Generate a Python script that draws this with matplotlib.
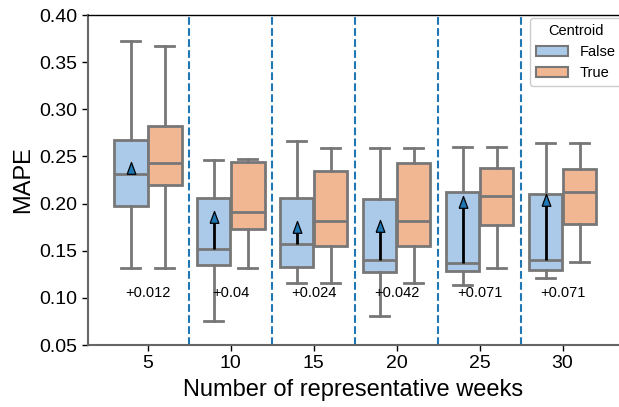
import matplotlib
matplotlib.use("Agg")
import matplotlib.pyplot as plt
import numpy as np
from matplotlib.patches import Patch

plt.rcParams['font.family'] = ['Liberation Sans', 'DejaVu Sans']

weeks = ["5", "10", "15", "20", "25", "30"]
# False (no centroid) boxes: whislo, q1, median, q3, whishi
false_whislo = [0.132, 0.075, 0.116, 0.081, 0.114, 0.121]
false_q1     = [0.197, 0.135, 0.133, 0.127, 0.129, 0.130]
false_med    = [0.231, 0.152, 0.157, 0.140, 0.137, 0.140]
false_q3     = [0.267, 0.206, 0.206, 0.205, 0.212, 0.210]
false_whishi = [0.372, 0.246, 0.266, 0.259, 0.260, 0.264]
false_mean   = [0.244, 0.192, 0.182, 0.183, 0.208, 0.210]
# True (centroid) boxes
true_whislo = [0.132, 0.132, 0.116, 0.116, 0.132, 0.138]
true_q1     = [0.220, 0.173, 0.155, 0.155, 0.177, 0.178]
true_med    = [0.243, 0.191, 0.182, 0.182, 0.208, 0.212]
true_q3     = [0.282, 0.244, 0.235, 0.243, 0.238, 0.237]
true_whishi = [0.367, 0.247, 0.259, 0.259, 0.260, 0.264]
diff_labels = ["+0.012", "+0.04", "+0.024", "+0.042", "+0.071", "+0.071"]

blue = "#abcaea"
orange = "#f0b792"
edge = "#777777"

fig = plt.figure(figsize=(6.19, 4.07), dpi=100)
ax = fig.add_axes([88/619, 62/407, 1 - 88/619, (345-15)/407])

x = np.arange(len(weeks))

def stats(lo, q1, med, q3, hi):
    return [dict(whislo=a, q1=b, med=c, q3=d, whishi=e, fliers=[])
            for a, b, c, d, e in zip(lo, q1, med, q3, hi)]

props = dict(
    patch_artist=True, showfliers=False, widths=0.405, capwidths=0.23,
    boxprops=dict(edgecolor=edge, linewidth=2.0),
    whiskerprops=dict(color=edge, linewidth=2.0),
    capprops=dict(color=edge, linewidth=2.0),
    medianprops=dict(color=edge, linewidth=2.0),
    manage_ticks=False,
)
bf = ax.bxp(stats(false_whislo, false_q1, false_med, false_q3, false_whishi),
            positions=x - 0.205, **props)
bt = ax.bxp(stats(true_whislo, true_q1, true_med, true_q3, true_whishi),
            positions=x + 0.205, **props)
for b in bf['boxes']:
    b.set_facecolor(blue)
for b in bt['boxes']:
    b.set_facecolor(orange)

# arrowhead marker with its tip at the marker's anchor point
head = [(-0.37, -1.0), (0.37, -1.0), (0.0, 0.0), (-0.37, -1.0)]

# arrows from median to mean
for i in range(len(weeks)):
    ax.plot([x[i] - 0.205, x[i] - 0.205], [false_med[i], false_mean[i] - 0.006],
            color='black', lw=2.0, zorder=4, solid_capstyle='butt')
    ax.plot(x[i] - 0.205, false_mean[i], marker=head, markersize=17,
            markerfacecolor='#1f77b4', markeredgecolor='black', markeredgewidth=0.9,
            zorder=5, linestyle='none')
    ax.text(x[i], 0.105, diff_labels[i], ha='center', va='center', fontsize=10.5)

for i in range(len(weeks) - 1):
    ax.axvline(x[i] + 0.5, color='#1f77b4', linestyle='--', lw=1.5, zorder=0)

ax.set_xlim(-0.72, 5.68)
ax.set_ylim(0.05, 0.40)
ax.set_xticks(x)
ax.set_xticklabels(weeks, fontsize=14)
yt = np.arange(0.05, 0.401, 0.05)
ax.set_yticks(yt)
ax.set_yticklabels([f"{v:.2f}" for v in yt], fontsize=14)
ax.set_xlabel("Number of representative weeks", fontsize=17, labelpad=5)
ax.set_ylabel("MAPE", fontsize=17)

for s in ['left', 'bottom']:
    ax.spines[s].set_color('#666666')
    ax.spines[s].set_linewidth(1.5)
ax.spines['right'].set_visible(False)
ax.spines['top'].set_color('black')
ax.spines['top'].set_linewidth(1.0)
ax.tick_params(axis='both', colors='black', length=4, width=1)

handles = [Patch(facecolor=blue, edgecolor=edge, linewidth=1.5, label='False'),
           Patch(facecolor=orange, edgecolor=edge, linewidth=1.5, label='True')]
ax.legend(handles=handles, title='Centroid', loc='upper left',
          bbox_to_anchor=((527-88)/531, 1.0), borderaxespad=0.2,
          fontsize=10.5, title_fontsize=10.5, handlelength=2.2,
          frameon=True, framealpha=1.0)

fig.savefig("out.png", dpi=100)
